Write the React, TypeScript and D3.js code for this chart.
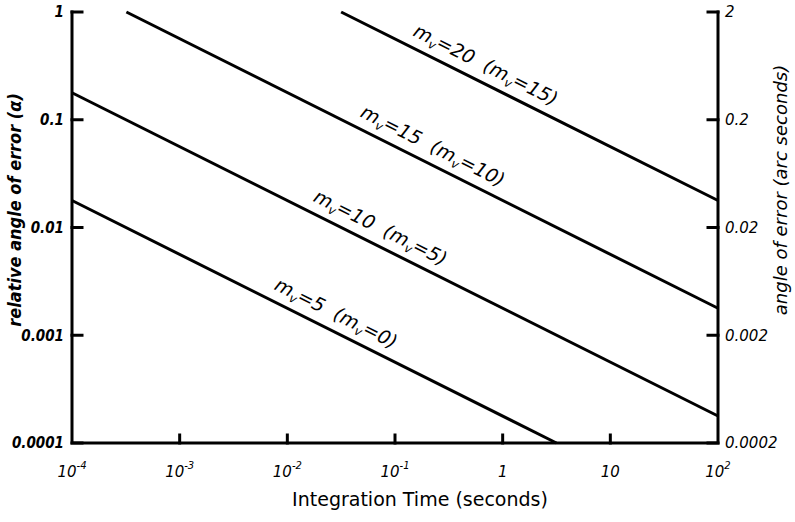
import React from 'react';
import * as d3 from 'd3';

// integration time (s) at each end of a line, and the relative angle there
const lineNames = ['m20', 'm15', 'm10', 'm5'];
const lineTimes = [[0.0316, 100], [0.00032, 100], [0.0001, 100], [0.0001, 3.16]];
const lineAlphas = [[1, 0.0178], [1, 0.00178], [0.178, 0.000178], [0.0178, 0.0001]];
// where the label sits on each line, and what it says
const labelTimes = [0.59, 0.19, 0.062, 0.024];
const labelMain = ['20', '15', '10', '5'];
const labelAlt = ['15', '10', '5', '0'];

const leftTicks = [1, 0.1, 0.01, 0.001, 0.0001];
const leftTickLabels = ['1', '0.1', '0.01', '0.001', '0.0001'];
const rightTicks = [2, 0.2, 0.02, 0.002, 0.0002];
const rightTickLabels = ['2', '0.2', '0.02', '0.002', '0.0002'];
const xTicks = [1e-4, 1e-3, 1e-2, 1e-1, 1, 10, 100];
const xTickBase = ['10', '10', '10', '10', '1', '10', '10'];
const xTickExp = ['-4', '-3', '-2', '-1', '', '', '2'];

const W = 795, H = 522;
const left = 72, right = 718, top = 12, bottom = 443;
const font = '"DejaVu Sans", sans-serif';
const condensed = '"DejaVu Sans Condensed", "DejaVu Sans", sans-serif';

export default function App() {
    const x = d3.scaleLog().domain([1e-4, 100]).range([left, right]);
    const yL = d3.scaleLog().domain([0.0001, 1]).range([bottom, top]);
    const yR = d3.scaleLog().domain([0.0002, 2]).range([bottom, top]);

    const line = d3.line<[number, number]>()
        .x(d => x(d[0]))
        .y(d => yL(d[1]));

    // angle of the lines on screen
    const p0 = [x(lineTimes[2][0]), yL(lineAlphas[2][0])];
    const p1 = [x(lineTimes[2][1]), yL(lineAlphas[2][1])];
    const angle = Math.atan2(p1[1] - p0[1], p1[0] - p0[0]) * 180 / Math.PI;

    return (
        <div style={{ position: 'absolute', left: 0, top: 0 }}>
            <svg width={W} height={H} style={{ display: 'block', background: '#fff' }}>
                {/* axes */}
                <g stroke="#000" strokeWidth={3} fill="none" strokeLinecap="square">
                    <path d={`M${left},${top}V${bottom}H${right}V${top}`} />
                    {leftTicks.map((t, i) => (
                        <line key={'l' + i} x1={left} x2={left + 10} y1={yL(t)} y2={yL(t)} />
                    ))}
                    {rightTicks.map((t, i) => (
                        <line key={'r' + i} x1={right - 10} x2={right} y1={yR(t)} y2={yR(t)} />
                    ))}
                    {xTicks.slice(1, -1).map((t, i) => (
                        <line key={'x' + i} x1={x(t)} x2={x(t)} y1={bottom} y2={bottom - 8} />
                    ))}
                </g>

                {/* tick labels */}
                <g fontFamily={condensed} fontStyle="italic" fontWeight="bold" fontSize={15} fill="#000">
                    {leftTicks.map((t, i) => (
                        <text key={i} x={left - 8} y={yL(t)} dy="0.35em" textAnchor="end">{leftTickLabels[i]}</text>
                    ))}
                </g>
                <g fontFamily={font} fontStyle="italic" fontSize={15} fill="#000">
                    {rightTicks.map((t, i) => (
                        <text key={i} x={right + 7} y={yR(t)} dy="0.35em" textAnchor="start">{rightTickLabels[i]}</text>
                    ))}
                    {xTicks.map((t, i) => (
                        <text key={i} x={x(t)} y={477} textAnchor="middle">
                            {xTickBase[i]}
                            {xTickExp[i] && <tspan fontSize={10} dy={-8}>{xTickExp[i]}</tspan>}
                        </text>
                    ))}
                </g>

                {/* axis titles */}
                <text x={420} y={506} textAnchor="middle" fontFamily={font} fontSize={19} fill="#000">
                    Integration Time (seconds)
                </text>
                <text transform="translate(21,210) rotate(-90)" textAnchor="middle" fontFamily={condensed}
                      fontStyle="italic" fontWeight="bold" fontSize={18} fill="#000">
                    relative angle of error (α)
                </text>
                <text transform="translate(787,190) rotate(-90)" textAnchor="middle" fontFamily={font}
                      fontStyle="italic" fontSize={18} fill="#000">
                    angle of error (arc seconds)
                </text>

                {/* lines */}
                <g stroke="#000" strokeWidth={3} fill="none">
                    {lineNames.map((n, i) => (
                        <path key={n} d={line([[lineTimes[i][0], lineAlphas[i][0]], [lineTimes[i][1], lineAlphas[i][1]]]) || ''} />
                    ))}
                </g>

                {/* labels along lines */}
                <g fontFamily={font} fontStyle="italic" fontSize={19} fill="#000">
                    {lineNames.map((n, i) => {
                        const t = labelTimes[i];
                        const k = (Math.log10(t) - Math.log10(lineTimes[i][0])) /
                            (Math.log10(lineTimes[i][1]) - Math.log10(lineTimes[i][0]));
                        const a = Math.pow(10, Math.log10(lineAlphas[i][0]) +
                            k * (Math.log10(lineAlphas[i][1]) - Math.log10(lineAlphas[i][0])));
                        return (
                            <text key={n} textAnchor="middle"
                                  transform={`translate(${x(t)},${yL(a)}) rotate(${angle}) translate(0,-11)`}>
                                m<tspan fontSize={12} dy={4}>v</tspan>
                                <tspan dy={-4}>{'=' + labelMain[i] + '\u00a0\u00a0(m'}</tspan>
                                <tspan fontSize={12} dy={4}>v</tspan>
                                <tspan dy={-4}>{'=' + labelAlt[i] + ')'}</tspan>
                            </text>
                        );
                    })}
                </g>
            </svg>
        </div>
    );
}
